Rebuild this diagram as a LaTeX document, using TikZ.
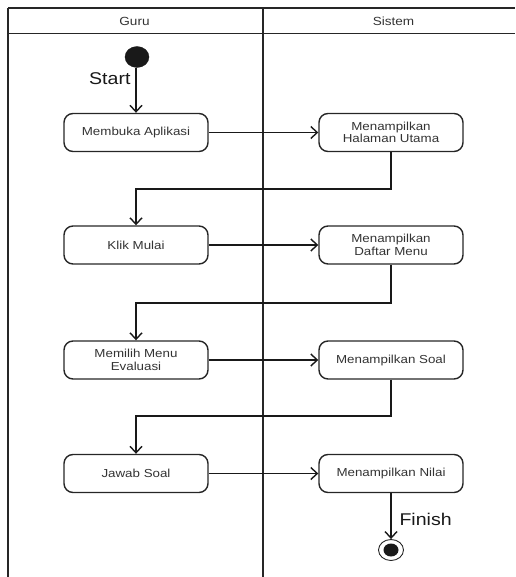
\documentclass[tikz,border=0pt]{standalone}
\usepackage{fontspec}
\setmainfont[FakeStretch=1.15]{Liberation Sans}
\usetikzlibrary{arrows.meta,shapes.geometric,calc}
\tikzset{
  act/.style={draw=black!85, line width=1.4pt, rounded corners=9pt, minimum width=144pt, minimum height=38pt, align=center, inner sep=1pt, font=\fontsize{11.6}{12.5}\selectfont, text=black!80},
  lane/.style={draw=black!85, line width=1.6pt},
  arr/.style={draw=black!90, line width=1.4pt, -{Straight Barb[length=6.5pt,width=12pt,line width=1.4pt]}},
  big/.style={font=\fontsize{17}{18}\selectfont, text=black!90},
  head/.style={font=\fontsize{11.8}{13}\selectfont, text=black!80}
}
\begin{document}
\begin{tikzpicture}[x=1pt,y=-1pt]
\useasboundingbox (0,0) rectangle (515,577);
% swimlanes
\draw[lane] (8,8) -- (515,8);
\draw[lane] (8,33.5) -- (515,33.5);
\draw[lane] (8,8) -- (8,577);
\draw[lane] (263,8) -- (263,577);
\node[head] (hguru) at (134.5,21) {Guru};
\node[head] (hsis) at (393.5,21) {Sistem};
% start
\node[ellipse, fill=black!90, draw=black!90, minimum width=24pt, minimum height=21pt, inner sep=0pt] (start) at (137,57) {};
\node[big, anchor=base east] (lstart) at (134,85) {Start};
% activities
\node[act] (b1) at (136,132.5) {Membuka Aplikasi};
\node[act] (b2) at (391,132.5) {Menampilkan\\Halaman Utama};
\node[act] (b3) at (136,245) {Klik Mulai};
\node[act] (b4) at (391,245) {Menampilkan\\Daftar Menu};
\node[act] (b5) at (136,360) {Memilih Menu\\Evaluasi};
\node[act] (b6) at (391,360) {Menampilkan Soal};
\node[act] (b7) at (136,473.5) {Jawab Soal};
\node[act] (b8) at (391,473.5) {Menampilkan Nilai};
% end
\node[ellipse, draw=black!85, line width=0.9pt, minimum width=25pt, minimum height=21pt, inner sep=0pt] (fin) at (391,550) {};
\node[ellipse, fill=black!90, minimum width=15pt, minimum height=13pt, inner sep=0pt] (fininner) at (391,550) {};
\node[big, anchor=base west] (lfin) at (396,525) {Finish};
% connectors
\coordinate (h1) at (136,189);
\coordinate (h2) at (136,303);
\coordinate (h3) at (136,416);
\draw[arr] (start.south -| b1.north) -- (b1.north);
\draw[arr] (b1.east) -- (b2.west);
\draw[arr] (b2.south) |- (h1) -- (b3.north);
\draw[arr] (b3.east) -- (b4.west);
\draw[arr] (b4.south) |- (h2) -- (b5.north);
\draw[arr] (b5.east) -- (b6.west);
\draw[arr] (b6.south) |- (h3) -- (b7.north);
\draw[arr] (b7.east) -- (b8.west);
\draw[arr] (b8.south) -- (fin.north);
\end{tikzpicture}
\end{document}
